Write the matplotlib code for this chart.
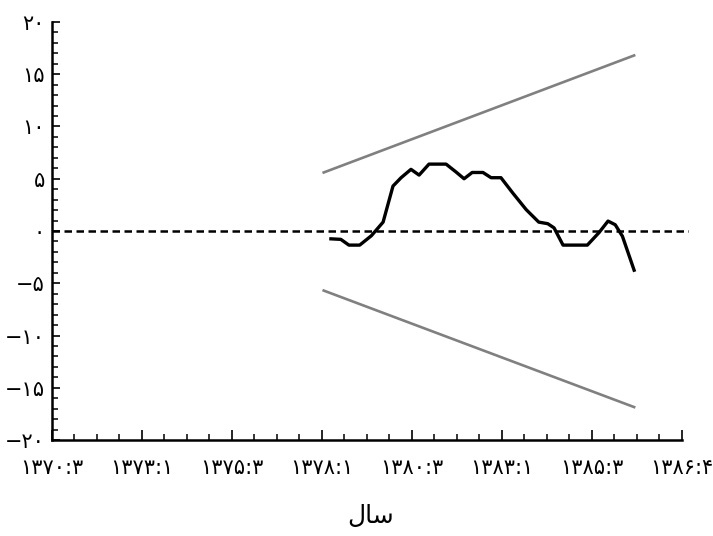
import matplotlib
matplotlib.use('Agg')
import matplotlib.pyplot as plt
from matplotlib.ticker import MultipleLocator

plt.rcParams['font.family'] = ['DejaVu Sans']

# CUSUM values (quarter index on x)
cusum_x = [31.0, 32.1, 33.0, 34.2, 35.5, 36.8, 37.9, 38.8, 39.9, 40.8, 41.9, 43.8,
           44.9, 45.8, 46.7, 47.9, 48.8, 49.9, 51.2, 52.7, 54.1, 55.1, 55.8, 56.8,
           59.5, 60.8, 61.8, 62.6, 63.4, 64.7]
cusum_y = [-0.75, -0.8, -1.35, -1.35, -0.45, 0.85, 4.3, 5.1, 5.9, 5.35, 6.4, 6.4,
           5.65, 5.0, 5.6, 5.6, 5.1, 5.1, 3.65, 2.05, 0.85, 0.7, 0.3, -1.35,
           -1.35, -0.15, 0.95, 0.6, -0.5, -3.75]

# 5% significance bounds
bound_x = [30.2, 64.7]
upper = [5.6, 16.8]
lower = [-5.7, -16.85]

xticks = [0, 10, 20, 30, 40, 50, 60, 70]
xlabels = ['۱۳۷۰:۳', '۱۳۷۳:۱', '۱۳۷۵:۳', '۱۳۷۸:۱', '۱۳۸۰:۳', '۱۳۸۳:۱', '۱۳۸۵:۳', '۱۳۸۶:۴']
yticks = [-20, -15, -10, -5, 0, 5, 10, 15, 20]
ylabels = ['−۲۰', '−۱۵', '−۱۰', '−۵', '۰', '۵', '۱۰', '۱۵', '۲۰']

fig = plt.figure(figsize=(7.13, 5.36), dpi=100)
ax = fig.add_axes([52/713, 96/536, 637/713, 418/536])

ax.axhline(0, color='black', lw=1.8, ls=(0, (3, 1.8)))
ax.plot(bound_x, upper, color='#808080', lw=1.9)
ax.plot(bound_x, lower, color='#808080', lw=1.9)
ax.plot(cusum_x, cusum_y, color='black', lw=2.4, solid_joinstyle='round')

ax.set_xlim(0, 70.8)
ax.set_ylim(-20, 20)
ax.spines['top'].set_visible(False)
ax.spines['right'].set_visible(False)
ax.spines['bottom'].set_bounds(0, 70)
for s in ('left', 'bottom'):
    ax.spines[s].set_linewidth(1.8)

ax.set_xticks(xticks)
ax.set_xticklabels(xlabels)
ax.set_yticks(yticks)
ax.set_yticklabels(ylabels)
ax.xaxis.set_minor_locator(MultipleLocator(2.5))
ax.yaxis.set_minor_locator(MultipleLocator(1))

ax.tick_params(axis='both', which='major', direction='in', width=1.2, labelsize=15, colors='black')
ax.tick_params(axis='x', which='major', length=7, pad=13)
ax.tick_params(axis='y', which='major', length=6, pad=5)
ax.tick_params(axis='both', which='minor', direction='in', width=1.1, length=4)

# "سال" given as presentation forms in visual order (no shaping in matplotlib)
ax.set_xlabel('\ufedd\ufe8e\ufeb3', fontsize=18, labelpad=19)

fig.savefig('out.png', dpi=100)
